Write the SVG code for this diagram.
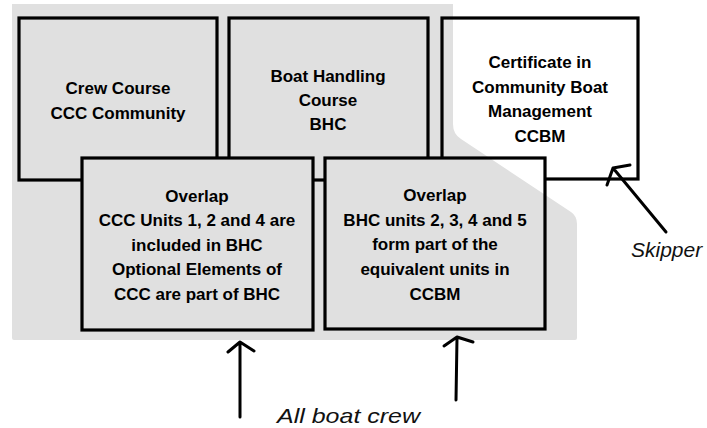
<svg xmlns="http://www.w3.org/2000/svg" xmlns:xlink="http://www.w3.org/1999/xlink" width="707" height="428" viewBox="0 0 707 428">
<style>
.box{fill:none;stroke:#000;stroke-width:3.2}
.t{font-family:"Liberation Sans",Arial,sans-serif;font-weight:bold;font-size:17px;fill:#000;text-anchor:middle}
.it{font-family:"Liberation Sans",Arial,sans-serif;font-style:italic;font-size:21px;fill:#111}
.arr{fill:none;stroke:#000;stroke-width:3;stroke-linecap:round;stroke-linejoin:round}
</style>
<defs>
<path id="bg" d="M12,4 H453 V124 Q453,134 461,139 L571,212 Q577,216 577,224 V338 Q577,340 575,340 H14 Q12,340 12,338 Z"/>
<clipPath id="ov2clip"><rect x="325" y="158" width="220" height="171"/></clipPath>
</defs>
<rect width="707" height="428" fill="#fff"/>
<use xlink:href="#bg" fill="#e0e0e0"/>
<g id="crew-course">
<rect class="box" x="19" y="18" width="198" height="162"/>
<text class="t"><tspan x="118" y="94">Crew Course</tspan><tspan x="118" y="119">CCC Community</tspan></text>
</g>
<g id="boat-handling">
<rect class="box" x="229" y="18" width="199" height="162"/>
<text class="t"><tspan x="328" y="82">Boat Handling</tspan><tspan x="328" y="106">Course</tspan><tspan x="328" y="130">BHC</tspan></text>
</g>
<g id="ccbm">
<rect class="box" x="442" y="18" width="196" height="161"/>
<text class="t"><tspan x="540" y="68">Certificate in</tspan><tspan x="540" y="93">Community Boat</tspan><tspan x="540" y="117">Management</tspan><tspan x="540" y="142">CCBM</tspan></text>
</g>
<g id="overlap-ccc-bhc">
<rect x="82" y="158" width="231" height="172" fill="#e0e0e0" stroke="#000" stroke-width="3.2"/>
<text class="t"><tspan x="197" y="202">Overlap</tspan><tspan x="197" y="226">CCC Units 1, 2 and 4 are</tspan><tspan x="197" y="251">included in BHC</tspan><tspan x="197" y="275">Optional Elements of</tspan><tspan x="197" y="300">CCC are part of BHC</tspan></text>
</g>
<g id="overlap-bhc-ccbm">
<rect x="325" y="158" width="220" height="171" fill="#fff"/>
<use xlink:href="#bg" fill="#e0e0e0" clip-path="url(#ov2clip)"/>
<rect class="box" x="325" y="158" width="220" height="171"/>
<text class="t"><tspan x="435" y="201">Overlap</tspan><tspan x="435" y="226">BHC units 2, 3, 4 and 5</tspan><tspan x="435" y="250">form part of the</tspan><tspan x="435" y="275">equivalent units in</tspan><tspan x="435" y="300">CCBM</tspan></text>
</g>
<g id="connectors">
<path class="arr" d="M240,417 V343 M228,352 L240,342 L254,351"/>
<path class="arr" d="M456,400 L457,338 M444,346 L457,337 L473,342"/>
<path class="arr" d="M666,232 L613,168 M607,185 L613,168 L630,165"/>
</g>
<g id="label-all-boat-crew">
<text class="it" x="277" y="423" font-size="22" textLength="143" lengthAdjust="spacingAndGlyphs">All boat crew</text>
</g>
<g id="label-skipper">
<text class="it" x="631" y="257">Skipper</text>
</g>
</svg>
